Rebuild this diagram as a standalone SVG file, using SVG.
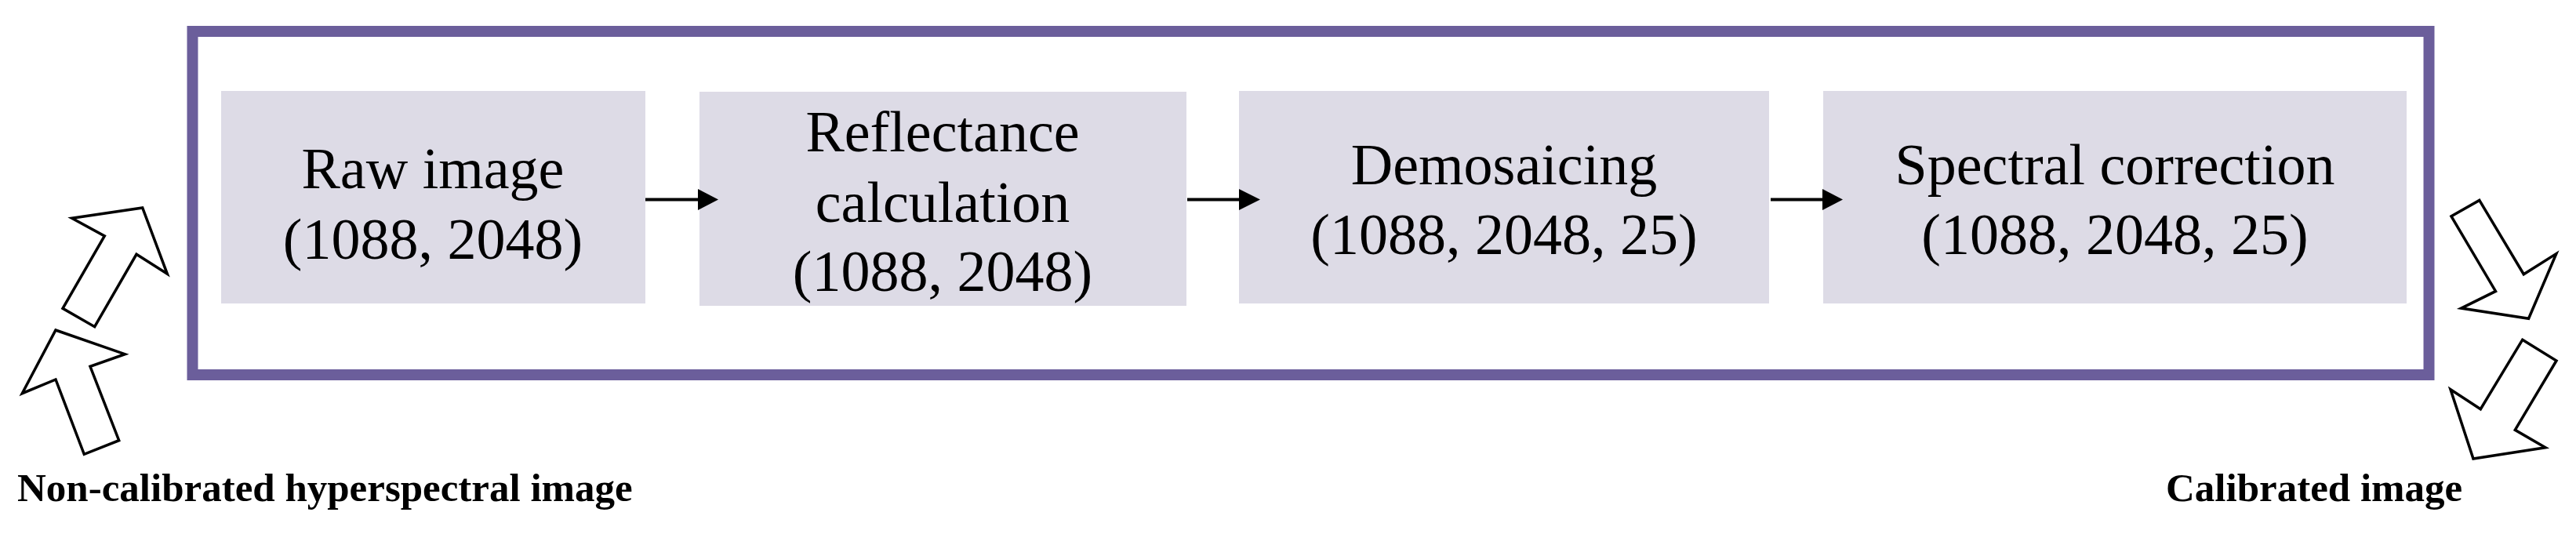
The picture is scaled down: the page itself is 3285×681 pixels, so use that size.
<svg xmlns="http://www.w3.org/2000/svg" width="3285" height="681" viewBox="0 0 3285 681">
<style>
.frame{fill:none;stroke:#6b5e9b;stroke-width:14}
.box{fill:#dddbe6}
.t{font-family:"Liberation Serif","Times New Roman",serif;font-size:74px;fill:#000;text-anchor:middle}
.lbl{font-family:"Liberation Serif","Times New Roman",serif;font-size:51px;font-weight:bold;fill:#000}
.conn{stroke:#000;stroke-width:4;fill:none}
.head{fill:#000}
.hollow{fill:#fff;stroke:#000;stroke-width:3.5;stroke-linejoin:miter}
</style>
<rect width="3285" height="681" fill="#fff"/>
<g id="frame"><rect class="frame" x="245.5" y="40" width="2852" height="438"/></g>
<g id="node-raw">
<rect class="box" x="282" y="116" width="541" height="271"/>
<text class="t" x="552" y="240">Raw image</text>
<text class="t" x="552" y="330">(1088, 2048)</text>
</g>
<g id="node-reflectance">
<rect class="box" x="892" y="117" width="621" height="273"/>
<text class="t" x="1202" y="193">Reflectance</text>
<text class="t" x="1202" y="283">calculation</text>
<text class="t" x="1202" y="371">(1088, 2048)</text>
</g>
<g id="node-demosaicing">
<rect class="box" x="1580" y="116" width="676" height="271"/>
<text class="t" x="1918" y="235">Demosaicing</text>
<text class="t" x="1918" y="324">(1088, 2048, 25)</text>
</g>
<g id="node-spectral">
<rect class="box" x="2325" y="116" width="744" height="271"/>
<text class="t" x="2697" y="235">Spectral correction</text>
<text class="t" x="2697" y="324">(1088, 2048, 25)</text>
</g>
<g id="connectors">
<line class="conn" x1="823" y1="254.5" x2="892" y2="254.5"/>
<polygon class="head" points="890,241 916,254.5 890,268"/>
<line class="conn" x1="1514" y1="254.5" x2="1582" y2="254.5"/>
<polygon class="head" points="1580,241 1607,254.5 1580,268"/>
<line class="conn" x1="2258" y1="254.5" x2="2326" y2="254.5"/>
<polygon class="head" points="2324,241 2350,254.5 2324,268"/>
</g>
<g id="input-arrows">
<polygon class="hollow" points="91.7,278.3 181.7,265 213.3,349.3 174,324.3 120.7,416.7 80,393.3 133.3,301"/>
<polygon class="hollow" points="71,421 159.3,451.7 115,467.3 151.7,561.7 107.3,579.3 71,484 28.3,501.7"/>
</g>
<g id="output-arrows">
<polygon class="hollow" points="3126,275.8 3161.8,255.4 3218.3,349.7 3259.8,323.6 3224.6,406.2 3138.6,393.1 3182.5,371.4"/>
<polygon class="hollow" points="3216.7,433.3 3260,460 3207.3,548.3 3246,570.7 3154,585 3125,496.7 3163.3,521.7"/>
</g>
<g id="label-input"><text class="lbl" x="22" y="639">Non-calibrated hyperspectral image</text></g>
<g id="label-output"><text class="lbl" x="2762" y="639">Calibrated image</text></g>
</svg>
